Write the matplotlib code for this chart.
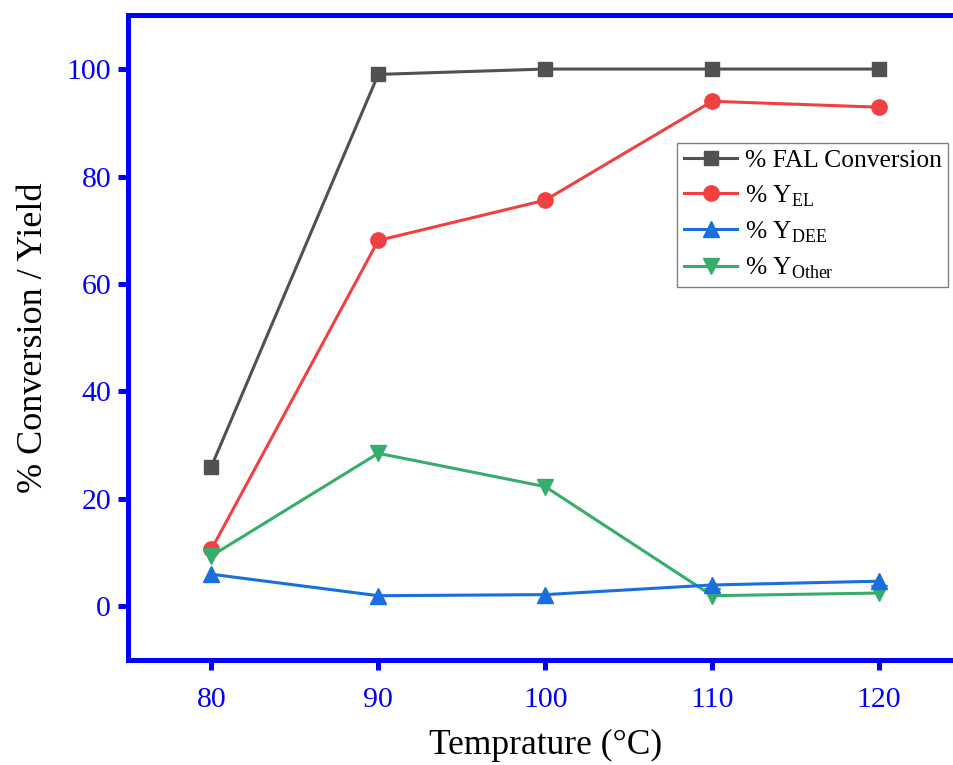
import matplotlib
matplotlib.use('Agg')
import matplotlib.pyplot as plt

plt.rcParams['font.family'] = 'Liberation Serif'
plt.rcParams['mathtext.fontset'] = 'custom'
plt.rcParams['mathtext.rm'] = 'Liberation Serif'

temps = [80, 90, 100, 110, 120]
fal_conv = [26, 99, 100, 100, 100]
y_el = [10.6, 68.1, 75.6, 94.0, 92.9]
y_dee = [6.0, 2.0, 2.2, 4.0, 4.7]
y_other = [9.4, 28.5, 22.3, 2.0, 2.5]

blue = '#0000ff'

fig = plt.figure(figsize=(9.54, 7.65), dpi=100)
ax = fig.add_axes([0.134, 0.137, 0.875, 0.843])

# Origin-style palette
lw = 2.2
ax.plot(temps, fal_conv, color='#515151', marker='s', markersize=10, linewidth=lw, label='% FAL Conversion')
ax.plot(temps, y_el, color='#F14040', marker='o', markersize=11, linewidth=lw, label='% Y$_{\\mathrm{EL}}$')
ax.plot(temps, y_other, color='#37AD6B', marker='v', markersize=12, linewidth=lw, label='% Y$_{\\mathrm{Other}}$')
ax.plot(temps, y_dee, color='#1A6FDF', marker='^', markersize=12, linewidth=lw, label='% Y$_{\\mathrm{DEE}}$')

ax.set_xlim(75, 125)
ax.set_ylim(-10, 110)
ax.set_xticks(temps)
ax.set_yticks([0, 20, 40, 60, 80, 100])

for side in ['left', 'bottom', 'top', 'right']:
    ax.spines[side].set_color(blue)
    ax.spines[side].set_linewidth(3.6)
ax.tick_params(axis='both', direction='out', length=7, width=3.6, color=blue,
               labelcolor=blue, labelsize=21.5, top=False, right=False)
ax.tick_params(axis='x', pad=12)
ax.tick_params(axis='y', pad=5)

ax.set_xlabel('Temprature (°C)', fontsize=25.5, labelpad=12)
ax.set_ylabel('% Conversion / Yield', fontsize=26, labelpad=12)

handles, labels = ax.get_legend_handles_labels()
order = [0, 1, 3, 2]
leg = fig.legend([handles[i] for i in order], [labels[i] for i in order],
                 loc='upper right', bbox_to_anchor=(0.994, 0.813), fontsize=18.4,
                 fancybox=False, framealpha=1, edgecolor='#808080',
                 handlelength=2.1, handletextpad=0.3, borderpad=0.25, labelspacing=0.42,
                 borderaxespad=0)
leg.get_frame().set_linewidth(1.0)

fig.savefig('out.png', dpi=100)
